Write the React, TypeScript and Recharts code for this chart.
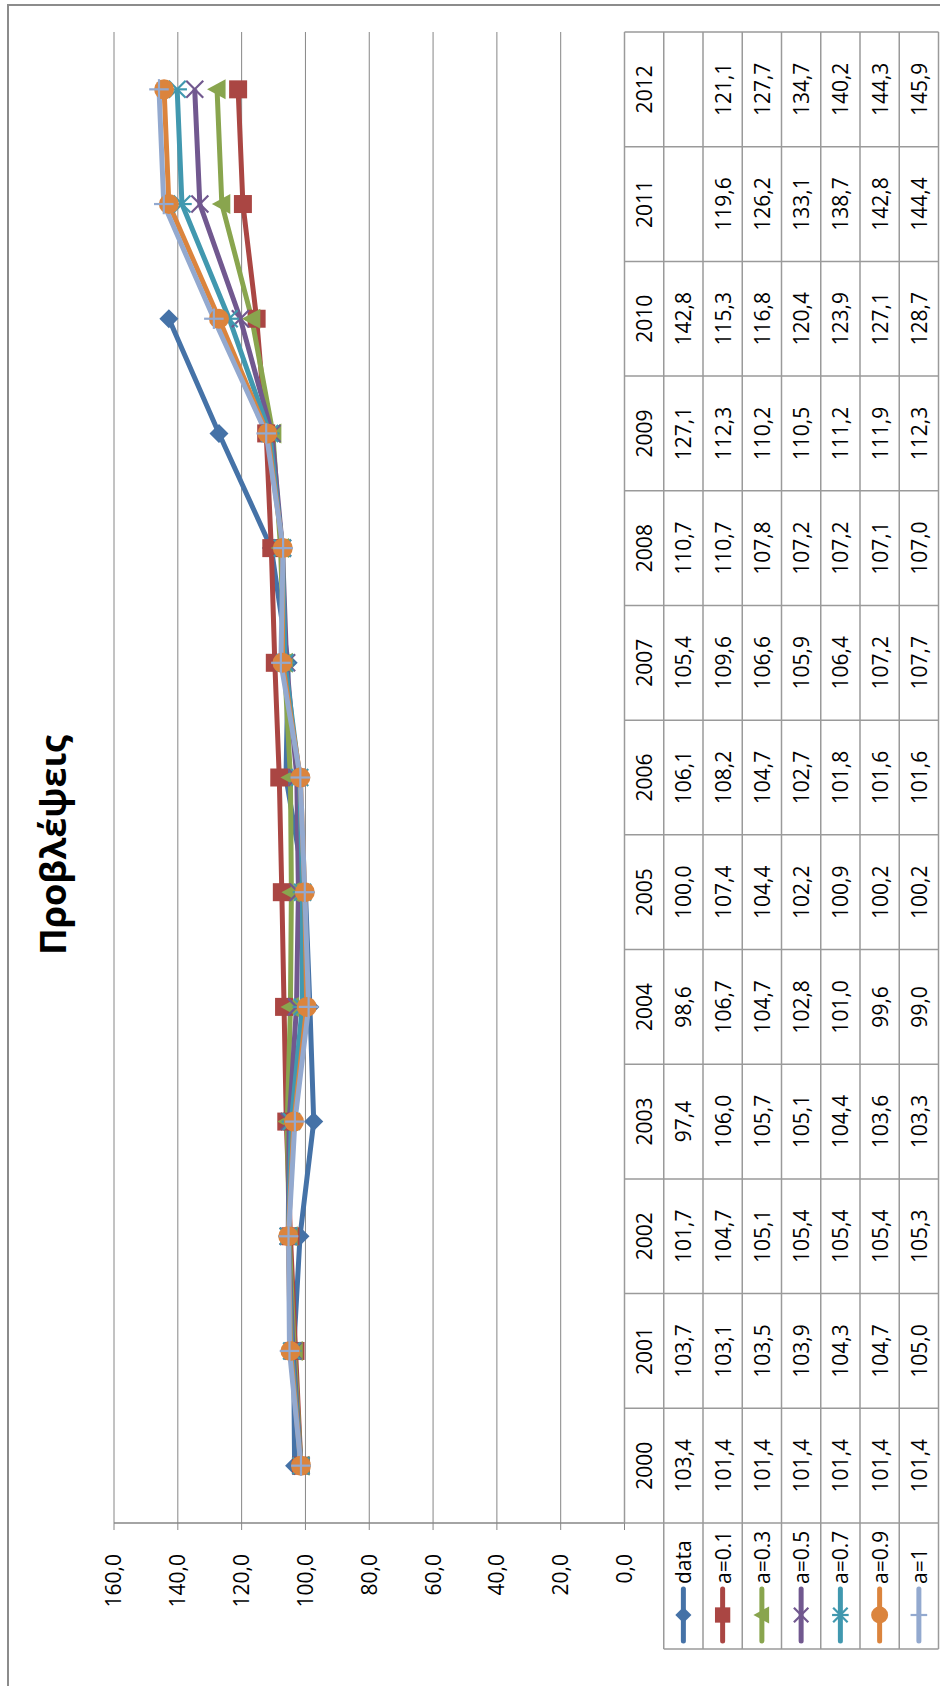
import { CartesianGrid, Line, LineChart, XAxis, YAxis } from "recharts";

const years = ["2000", "2001", "2002", "2003", "2004", "2005", "2006", "2007", "2008", "2009", "2010", "2011", "2012"];
const actual = [103.4, 103.7, 101.7, 97.4, 98.6, 100.0, 106.1, 105.4, 110.7, 127.1, 142.8, null, null];
const a01 = [101.4, 103.1, 104.7, 106.0, 106.7, 107.4, 108.2, 109.6, 110.7, 112.3, 115.3, 119.6, 121.1];
const a03 = [101.4, 103.5, 105.1, 105.7, 104.7, 104.4, 104.7, 106.6, 107.8, 110.2, 116.8, 126.2, 127.7];
const a05 = [101.4, 103.9, 105.4, 105.1, 102.8, 102.2, 102.7, 105.9, 107.2, 110.5, 120.4, 133.1, 134.7];
const a07 = [101.4, 104.3, 105.4, 104.4, 101.0, 100.9, 101.8, 106.4, 107.2, 111.2, 123.9, 138.7, 140.2];
const a09 = [101.4, 104.7, 105.4, 103.6, 99.6, 100.2, 101.6, 107.2, 107.1, 111.9, 127.1, 142.8, 144.3];
const a10 = [101.4, 105.0, 105.3, 103.3, 99.0, 100.2, 101.6, 107.7, 107.0, 112.3, 128.7, 144.4, 145.9];
const valueTicks = [0, 20, 40, 60, 80, 100, 120, 140, 160];

type MarkerKind = "diamond" | "square" | "triangle" | "x" | "star" | "circle" | "plus";

const series: { key: string; name: string; color: string; marker: MarkerKind; values: (number | null)[] }[] = [
  { key: "s0", name: "data", color: "#4572A7", marker: "diamond", values: actual },
  { key: "s1", name: "a=0.1", color: "#AA4643", marker: "square", values: a01 },
  { key: "s2", name: "a=0.3", color: "#89A54E", marker: "triangle", values: a03 },
  { key: "s3", name: "a=0.5", color: "#71588F", marker: "x", values: a05 },
  { key: "s4", name: "a=0.7", color: "#4198AF", marker: "star", values: a07 },
  { key: "s5", name: "a=0.9", color: "#DB843D", marker: "circle", values: a09 },
  { key: "s6", name: "a=1", color: "#93A9CF", marker: "plus", values: a10 }
];

const rows = years.map((year, i) => {
  const row: Record<string, string | number | null> = { year };
  series.forEach((s) => {
    row[s.key] = s.values[i];
  });
  return row;
});

// chart is laid out unrotated, then turned -90deg onto the page
const W = 1686;
const H = 940;
const PLOT_L = 163;
const PLOT_R = 1654;
const PLOT_T = 114;
const PLOT_B = 624.5;
const Y_W = 100;
const BAND = (PLOT_R - PLOT_L) / years.length;
const ROW_H = 39.25;
const LEGEND_L = 37;
const FONT = "'Open Sans', 'Noto Sans', sans-serif";
const GRID = "#868686";
const TABLE = "#9a9a9a";
const FS = 21;

const fmt = (v: number | null) => (v == null ? "" : v.toFixed(1).replace(".", ","));

function Marker({ kind, cx, cy, color, s = 1 }: { kind: MarkerKind; cx: number; cy: number; color: string; s?: number }) {
  if (kind === "diamond") {
    const r = 9.5 * s;
    return <polygon points={`${cx},${cy - r} ${cx + r},${cy} ${cx},${cy + r} ${cx - r},${cy}`} fill={color} />;
  }
  if (kind === "square") {
    const r = 9 * s;
    return <rect x={cx - r} y={cy - r} width={2 * r} height={2 * r} fill={color} />;
  }
  if (kind === "triangle") {
    const r = 10 * s;
    return <polygon points={`${cx},${cy - r} ${cx + r},${cy + r * 0.85} ${cx - r},${cy + r * 0.85}`} fill={color} />;
  }
  if (kind === "circle") {
    return <circle cx={cx} cy={cy} r={10 * s} fill={color} />;
  }
  const r = 8.5 * s;
  return (
    <g stroke={color} strokeWidth={2.2}>
      {(kind === "x" || kind === "star") && (
        <>
          <line x1={cx - r} y1={cy - r} x2={cx + r} y2={cy + r} />
          <line x1={cx - r} y1={cy + r} x2={cx + r} y2={cy - r} />
        </>
      )}
      {(kind === "star" || kind === "plus") && <line x1={cx} y1={cy - r * 1.15} x2={cx} y2={cy + r * 1.15} />}
      {kind === "plus" && <line x1={cx - r * 1.2} y1={cy} x2={cx + r * 1.2} y2={cy} />}
    </g>
  );
}

function DataTable() {
  const bottom = PLOT_B + ROW_H * (series.length + 1);
  const hLines = Array.from({ length: series.length + 2 }, (_, k) => PLOT_B + k * ROW_H);
  return (
    <svg width={W} height={H} style={{ position: "absolute", left: 0, top: 0, fontFamily: FONT }}>
      <rect x={-20} y={8} width={1681 + 20} height={H} fill="none" stroke="#8c8c8c" strokeWidth={2} />
      <text x={841} y={52} textAnchor="middle" dominantBaseline="central" fontSize={36} fontWeight={700} fill="#000">
        Προβλέψεις
      </text>
      {hLines.map((v, k) => (
        <line key={`h${k}`} x1={k === 0 ? PLOT_L : LEGEND_L} x2={PLOT_R} y1={v} y2={v} stroke={TABLE} strokeWidth={1.5} />
      ))}
      {years.map((_, i) => (
        <line key={`v${i}`} x1={PLOT_L + (i + 1) * BAND} x2={PLOT_L + (i + 1) * BAND} y1={PLOT_B} y2={bottom} stroke={TABLE} strokeWidth={1.5} />
      ))}
      <line x1={PLOT_L} x2={PLOT_L} y1={PLOT_B} y2={bottom} stroke={TABLE} strokeWidth={1.5} />
      <line x1={LEGEND_L} x2={LEGEND_L} y1={PLOT_B + ROW_H} y2={bottom} stroke={TABLE} strokeWidth={1.5} />
      {years.map((y, i) => (
        <text key={`y${y}`} x={PLOT_L + (i + 0.5) * BAND} y={PLOT_B + ROW_H / 2} textAnchor="middle" dominantBaseline="central" fontSize={FS} fill="#000">
          {y}
        </text>
      ))}
      {series.map((s, r) => {
        const cy = PLOT_B + (r + 1.5) * ROW_H;
        return (
          <g key={s.key}>
            <line x1={45} x2={97} y1={cy} y2={cy} stroke={s.color} strokeWidth={5} strokeLinecap="round" />
            <Marker kind={s.marker} cx={71} cy={cy} color={s.color} s={0.85} />
            <text x={102} y={cy} dominantBaseline="central" fontSize={FS} fill="#000">
              {s.name}
            </text>
            {s.values.map((v, i) => (
              <text key={i} x={PLOT_L + (i + 0.5) * BAND} y={cy} textAnchor="middle" dominantBaseline="central" fontSize={FS} fill="#000">
                {fmt(v)}
              </text>
            ))}
          </g>
        );
      })}
    </svg>
  );
}

export default function App() {
  return (
    <div style={{ position: "absolute", left: 0, top: 0, width: H, height: W, overflow: "hidden", background: "#fff" }}>
      <div
        style={{
          position: "absolute",
          left: 0,
          top: 0,
          width: W,
          height: H,
          transformOrigin: "0 0",
          transform: `translate(0px, ${W}px) rotate(-90deg)`,
          fontFamily: FONT
        }}
      >
        <LineChart width={W} height={H} data={rows} margin={{ top: PLOT_T, right: W - PLOT_R, bottom: H - PLOT_B, left: PLOT_L - Y_W }}>
          <CartesianGrid stroke={GRID} vertical={false} />
          <XAxis dataKey="year" hide height={0} padding={{ left: BAND / 2, right: BAND / 2 }} />
          <YAxis
            width={Y_W}
            domain={[0, 160]}
            ticks={valueTicks}
            interval={0}
            tickFormatter={(v: number) => fmt(v)}
            tick={{ fontSize: FS, fill: "#000", fontFamily: FONT }}
            axisLine={{ stroke: GRID, strokeWidth: 1.5 }}
            tickLine={{ stroke: GRID }}
            tickSize={7}
            tickMargin={24}
          />
          {series.map((s) => (
            <Line
              key={s.key}
              dataKey={s.key}
              name={s.name}
              stroke={s.color}
              strokeWidth={5}
              isAnimationActive={false}
              activeDot={false}
              dot={(p: any) =>
                p.cx == null || p.cy == null || p.value == null ? (
                  <g key={`${s.key}-${p.index}`} />
                ) : (
                  <Marker key={`${s.key}-${p.index}`} kind={s.marker} cx={p.cx} cy={p.cy} color={s.color} />
                )
              }
            />
          ))}
        </LineChart>
        <DataTable />
      </div>
    </div>
  );
}
